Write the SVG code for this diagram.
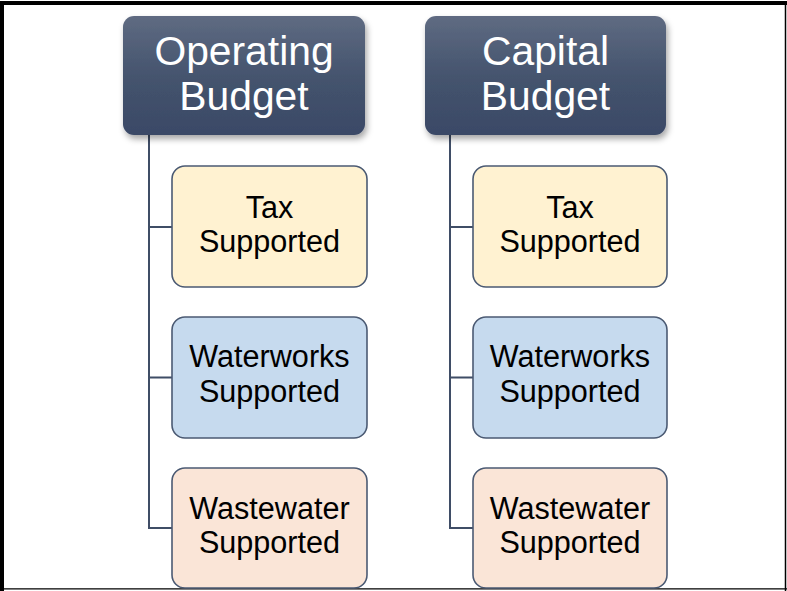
<svg xmlns="http://www.w3.org/2000/svg" width="787" height="591" viewBox="0 0 787 591">
<defs>
<linearGradient id="hdr" x1="0" y1="0" x2="0" y2="1">
<stop offset="0" stop-color="#5f6b82"/>
<stop offset="0.5" stop-color="#45546e"/>
<stop offset="1" stop-color="#3a4966"/>
</linearGradient>
<filter id="sh" x="-10%" y="-10%" width="125%" height="130%">
<feDropShadow dx="2" dy="4" stdDeviation="3" flood-color="#000" flood-opacity="0.35"/>
</filter>
<style>
.hdr{fill:url(#hdr);filter:url(#sh)}
.ht{font-family:"Liberation Sans",Arial,sans-serif;font-size:40.8px;fill:#fff;text-anchor:middle}
.box{stroke:#4b5a73;stroke-width:1.6}
.tax{fill:#fff2d1}
.ww{fill:#c6daee}
.wst{fill:#fae5d7}
.bt{font-family:"Liberation Sans",Arial,sans-serif;font-size:30.6px;fill:#000;text-anchor:middle}
.con{fill:none;stroke:#3f4d66;stroke-width:2}
</style>
</defs>
<rect width="787" height="591" fill="#fff"/>
<g id="frame" fill="none" stroke="#000">
<line x1="2" y1="1" x2="2" y2="591" stroke-width="4"/>
<line x1="0" y1="3" x2="787" y2="3" stroke-width="4"/>
<line x1="785.5" y1="1" x2="785.5" y2="591" stroke-width="1.5"/>
<line x1="0" y1="588.8" x2="787" y2="588.8" stroke-width="1.3"/>
</g>
<g id="connectors" class="con">
<path class="con" d="M149 135 V528 H172 M149 227 H172 M149 377.5 H172"/>
<path class="con" d="M450 135 V528 H473 M450 227 H473 M450 377.5 H473"/>
</g>
<g id="operating-budget">
<rect class="hdr" x="123" y="16" width="242" height="119" rx="11"/>
<text class="ht" x="244" y="65">Operating</text>
<text class="ht" x="244" y="110">Budget</text>
</g>
<g id="capital-budget">
<rect class="hdr" x="425" y="16" width="241" height="119" rx="11"/>
<text class="ht" x="545.5" y="65">Capital</text>
<text class="ht" x="545.5" y="110">Budget</text>
</g>
<g id="op-tax">
<rect class="box tax" x="172" y="166" width="195" height="121" rx="13"/>
<text class="bt" x="269.5" y="218">Tax</text>
<text class="bt" x="269.5" y="252">Supported</text>
</g>
<g id="op-waterworks">
<rect class="box ww" x="172" y="317" width="195" height="121" rx="13"/>
<text class="bt" x="269.5" y="367">Waterworks</text>
<text class="bt" x="269.5" y="401.5">Supported</text>
</g>
<g id="op-wastewater">
<rect class="box wst" x="172" y="468" width="195" height="120" rx="13"/>
<text class="bt" x="269.5" y="519">Wastewater</text>
<text class="bt" x="269.5" y="553">Supported</text>
</g>
<g id="cap-tax">
<rect class="box tax" x="473" y="166" width="194" height="121" rx="13"/>
<text class="bt" x="570" y="218">Tax</text>
<text class="bt" x="570" y="252">Supported</text>
</g>
<g id="cap-waterworks">
<rect class="box ww" x="473" y="317" width="194" height="121" rx="13"/>
<text class="bt" x="570" y="367">Waterworks</text>
<text class="bt" x="570" y="401.5">Supported</text>
</g>
<g id="cap-wastewater">
<rect class="box wst" x="473" y="468" width="194" height="120" rx="13"/>
<text class="bt" x="570" y="519">Wastewater</text>
<text class="bt" x="570" y="553">Supported</text>
</g>
</svg>
